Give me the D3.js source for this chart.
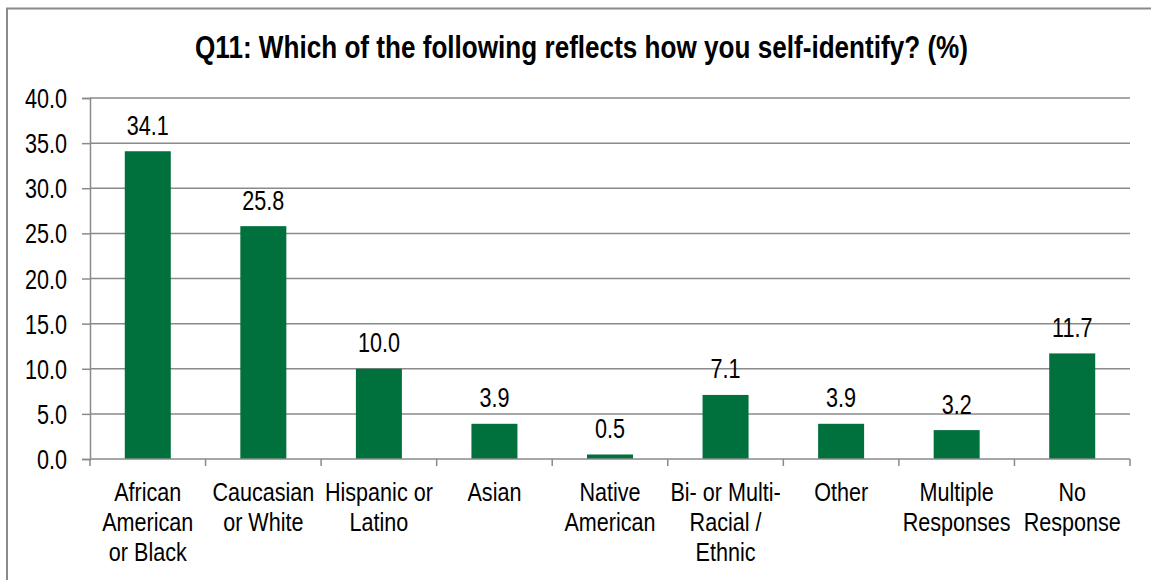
<!DOCTYPE html>
<meta charset="utf-8">
<script src="https://d3js.org/d3.v7.min.js"></script>
<style>
  body { margin: 0; background: #fff; }
  text { font-family: "Liberation Sans Narrow", "Arial Narrow", "Liberation Sans", Arial, sans-serif; fill: #000; }
</style>
<body>
<script>
// chart data
var categories = [
  ["African", "American", "or Black"],
  ["Caucasian", "or White"],
  ["Hispanic or", "Latino"],
  ["Asian"],
  ["Native", "American"],
  ["Bi- or Multi-", "Racial /", "Ethnic"],
  ["Other"],
  ["Multiple", "Responses"],
  ["No", "Response"]
];
var values = [34.1, 25.8, 10.0, 3.9, 0.5, 7.1, 3.9, 3.2, 11.7];
var yTicks = [0, 5, 10, 15, 20, 25, 30, 35, 40];
var title = "Q11: Which of the following reflects how you self-identify? (%)";

var W = 1151, H = 580;
var margin = {top: 98, right: 21, bottom: 121, left: 90};
var width = W - margin.left - margin.right,
    height = H - margin.top - margin.bottom;
var narrow = 0.8;   // squeeze regular sans to look like a narrow face
var gridCol = "#8a8a8a";

var svg = d3.select("body").append("svg")
    .attr("width", W)
    .attr("height", H);

// outer frame
svg.append("rect")
    .attr("x", 7).attr("y", 8.5)
    .attr("width", 1170).attr("height", 620)
    .attr("fill", "none")
    .attr("stroke", gridCol)
    .attr("stroke-width", 2);

svg.append("text")
    .attr("x", 195).attr("y", 58)
    .attr("textLength", 773)
    .attr("lengthAdjust", "spacingAndGlyphs")
    .style("font-size", "32px")
    .style("font-weight", "bold")
    .text(title);

var g = svg.append("g")
    .attr("transform", "translate(" + margin.left + "," + margin.top + ")");

var idx = d3.range(values.length);
var x = d3.scaleBand().domain(idx).range([0, width]).padding(0);
var y = d3.scaleLinear().domain([0, 40]).range([height, 0]);

// gridlines
g.selectAll(".grid").data(yTicks.slice(1)).enter().append("line")
    .attr("x1", 0).attr("x2", width)
    .attr("y1", function(d) { return y(d); })
    .attr("y2", function(d) { return y(d); })
    .attr("stroke", gridCol)
    .attr("stroke-width", 1.5);

// y axis
var yAxis = g.append("g")
    .call(d3.axisLeft(y).tickValues(yTicks).tickSize(8)
      .tickFormat(d3.format(".1f")));
yAxis.select(".domain").attr("stroke", gridCol).attr("stroke-width", 1.5);
yAxis.selectAll(".tick line").attr("stroke", gridCol).attr("stroke-width", 1.5);
yAxis.selectAll(".tick text")
    .attr("x", -23 / narrow)
    .attr("dy", "9.5px")
    .attr("transform", "scale(" + narrow + ",1)")
    .attr("fill", "#000")
    .style("font-size", "27px")
    .style("font-family", "'Liberation Sans', Arial, sans-serif");

// bars
var barW = 46;
g.selectAll(".bar").data(values).enter().append("rect")
    .attr("x", function(d, i) { return x(i) + x.bandwidth() / 2 - barW / 2; })
    .attr("y", function(d) { return y(d); })
    .attr("width", barW)
    .attr("height", function(d) { return height - y(d); })
    .attr("fill", "#00703c");

// x axis line and ticks between categories
g.append("line")
    .attr("x1", 0).attr("x2", width)
    .attr("y1", height).attr("y2", height)
    .attr("stroke", gridCol).attr("stroke-width", 1.5);
g.selectAll(".xtick").data(d3.range(values.length + 1)).enter().append("line")
    .attr("x1", function(d) { return d * x.bandwidth(); })
    .attr("x2", function(d) { return d * x.bandwidth(); })
    .attr("y1", height).attr("y2", height + 7)
    .attr("stroke", gridCol).attr("stroke-width", 1.5);

// value labels
g.selectAll(".val").data(values).enter().append("text")
    .attr("transform", function(d, i) {
      return "translate(" + (x(i) + x.bandwidth() / 2) + "," + (y(d) - 16.5) + ") scale(" + narrow + ",1)";
    })
    .attr("text-anchor", "middle")
    .style("font-size", "27px")
    .text(function(d) { return d.toFixed(1); });

// category labels
var cl = g.selectAll(".cat").data(categories).enter().append("text")
    .attr("transform", function(d, i) {
      return "translate(" + (x(i) + x.bandwidth() / 2) + "," + (height + 42) + ") scale(0.83,1)";
    })
    .attr("text-anchor", "middle")
    .style("font-size", "26px");
cl.selectAll("tspan").data(function(d) { return d; })
  .enter().append("tspan")
    .attr("x", 0)
    .attr("y", function(d, j) { return j * 30; })
    .text(function(d) { return d; });
</script>
</body>
